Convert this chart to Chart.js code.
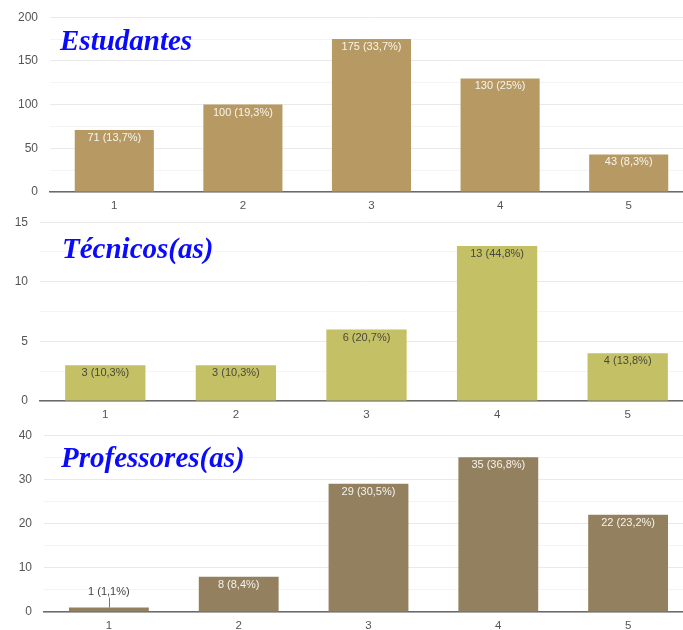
<!DOCTYPE html>
<html>
<head>
<meta charset="utf-8">
<script src="https://cdn.jsdelivr.net/npm/chart.js@4.4.1/dist/chart.umd.min.js"></script>
<style>
  html, body { margin: 0; padding: 0; background: #ffffff; }
  body { width: 683px; height: 630px; overflow: hidden; position: relative; }
  canvas { position: absolute; left: 0; }
  .ttl { position: absolute; font-family: "Liberation Serif", "Times New Roman", serif; font-weight: bold; font-style: italic; font-size: 29px; line-height: 1; color: #0a0aff; white-space: nowrap; }
</style>
</head>
<body>
<canvas id="c1" width="700" height="214" style="top:-2px"></canvas>
<canvas id="c2" width="700" height="218" style="top:203px"></canvas>
<canvas id="c3" width="700" height="216" style="top:416px"></canvas>
<div class="ttl" style="left:60px; top:26px">Estudantes</div>
<div class="ttl" style="left:62px; top:234px">Técnicos(as)</div>
<div class="ttl" style="left:61px; top:443px">Professores(as)</div>
<script>
const categories = ['1', '2', '3', '4', '5'];

const estudantesValues = [71, 100, 175, 130, 43];
const estudantesPct = ['13,7', '19,3', '33,7', '25', '8,3'];

const tecnicosValues = [3, 3, 6, 13, 4];
const tecnicosPct = ['10,3', '10,3', '20,7', '44,8', '13,8'];

const professoresValues = [1, 8, 29, 35, 22];
const professoresPct = ['1,1', '8,4', '30,5', '36,8', '23,2'];

const FONT = '"Liberation Sans", Arial, sans-serif';

const barLabels = {
  id: 'barLabels',
  afterDatasetsDraw(chart, args, opts) {
    const ctx = chart.ctx;
    const meta = chart.getDatasetMeta(0);
    const ds = chart.data.datasets[0];
    ctx.save();
    ctx.font = '11px ' + FONT;
    ctx.textAlign = 'center';
    ctx.textBaseline = 'middle';
    meta.data.forEach((bar, i) => {
      const txt = ds.data[i] + ' (' + opts.pct[i] + '%)';
      const h = bar.base - bar.y;
      if (h > 16) {
        ctx.fillStyle = opts.inside;
        ctx.fillText(txt, bar.x, bar.y + 8);
      } else {
        ctx.fillStyle = '#444444';
        ctx.fillText(txt, bar.x, bar.y - 16);
        ctx.strokeStyle = '#777777';
        ctx.lineWidth = 1;
        ctx.beginPath();
        ctx.moveTo(Math.round(bar.x) + 0.5, bar.y - 10);
        ctx.lineTo(Math.round(bar.x) + 0.5, bar.y);
        ctx.stroke();
      }
    });
    ctx.restore();
  }
};

function makeChart(id, values, pct, color, inside, max, step, major, leftW) {
  return new Chart(document.getElementById(id), {
    type: 'bar',
    data: {
      labels: categories,
      datasets: [{
        data: values,
        backgroundColor: color,
        borderWidth: 0,
        barPercentage: 0.615,
        categoryPercentage: 1.0
      }]
    },
    options: {
      responsive: false,
      animation: false,
      layout: { padding: { top: 18, right: 7, bottom: 0, left: 0 } },
      plugins: {
        legend: { display: false },
        tooltip: { enabled: false },
        barLabels: { pct: pct, inside: inside }
      },
      scales: {
        x: {
          grid: { display: false, drawTicks: false },
          border: { display: true, color: '#6a6a6a', width: 1.5 },
          ticks: { color: '#555555', font: { family: FONT, size: 11.5 }, padding: 7 },
          afterFit(s) { s.height = 20; }
        },
        y: {
          min: 0,
          max: max,
          grid: {
            drawTicks: false,
            color: (c) => (c.tick && c.tick.value % major === 0) ? '#e9e9e9' : '#f4f4f4',
            lineWidth: 1
          },
          border: { display: false },
          ticks: {
            stepSize: step,
            color: '#555555',
            font: { family: FONT, size: 12 },
            padding: 12,
            callback: (v) => (v % major === 0 ? String(v) : '')
          },
          afterFit(s) { s.width = leftW; }
        }
      }
    },
    plugins: [barLabels]
  });
}

makeChart('c1', estudantesValues, estudantesPct, '#b79a63', '#f7f4ee', 200, 25, 50, 50);
makeChart('c2', tecnicosValues, tecnicosPct, '#c4c066', '#4a4a3a', 15, 2.5, 5, 40);
makeChart('c3', professoresValues, professoresPct, '#93805f', '#f5f2ec', 40, 5, 10, 44);
</script>
</body>
</html>
